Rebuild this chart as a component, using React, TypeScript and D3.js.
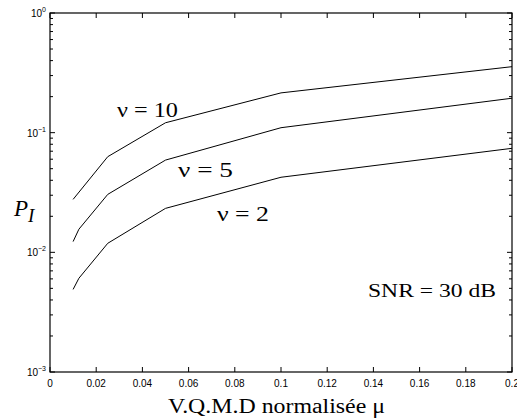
import { useEffect } from "react";
import * as d3 from "d3";

const mu = [0.01, 0.0125, 0.025, 0.05, 0.1, 0.2];
const nu10 = [0.0277, null, 0.063, 0.121, 0.215, 0.356];
const nu5 = [0.0123, 0.0156, 0.0305, 0.059, 0.11, 0.194];
const nu2 = [0.0049, 0.00607, 0.0119, 0.0233, 0.0424, 0.074];
const xTicks = [0, 0.02, 0.04, 0.06, 0.08, 0.1, 0.12, 0.14, 0.16, 0.18, 0.2];
const yExps = [0, -1, -2, -3];

const W = 517;
const H = 419;
const m = { left: 50, right: 5, top: 13, bottom: 47 };

export default function App() {
  useEffect(() => {
    document.body.style.margin = "0";
    document.body.style.overflow = "hidden";
  }, []);

  const x = d3.scaleLinear().domain([0, 0.2]).range([m.left, W - m.right]);
  const y = d3.scaleLog().domain([1e-3, 1]).range([H - m.bottom, m.top]);

  const line = d3
    .line<[number, number]>()
    .x((d) => x(d[0]))
    .y((d) => y(d[1]));

  const series = [nu10, nu5, nu2];

  // minor log ticks
  const minor: number[] = [];
  for (let e = -3; e < 0; e++) {
    for (let k = 2; k <= 9; k++) minor.push(k * Math.pow(10, e));
  }

  const x0 = x(0);
  const x1 = x(0.2);
  const y0 = y(1e-3);
  const y1 = y(1);
  const tickFont = "'Liberation Sans', Arial, sans-serif";
  const serif = "'Liberation Serif', 'Times New Roman', serif";

  return (
    <svg width={W} height={H} style={{ display: "block", background: "#fff" }}>
      {/* box */}
      <rect x={x0} y={y1} width={x1 - x0} height={y0 - y1} fill="none" stroke="#000" strokeWidth={1.2} />

      {/* x ticks */}
      {xTicks.map((t) => (
        <g key={"x" + t}>
          <line x1={x(t)} x2={x(t)} y1={y0} y2={y0 - 5} stroke="#000" />
          <line x1={x(t)} x2={x(t)} y1={y1} y2={y1 + 5} stroke="#000" />
          <text x={x(t)} y={y0 + 15} fontSize={10} fontFamily={tickFont} textAnchor="middle">
            {String(t)}
          </text>
        </g>
      ))}

      {/* y ticks */}
      {yExps.map((e) => (
        <g key={"y" + e}>
          <line x1={x0} x2={x0 + 5} y1={y(Math.pow(10, e))} y2={y(Math.pow(10, e))} stroke="#000" />
          <line x1={x1} x2={x1 - 5} y1={y(Math.pow(10, e))} y2={y(Math.pow(10, e))} stroke="#000" />
          <text x={x0 - 4} y={y(Math.pow(10, e)) + 4} fontSize={10} fontFamily={tickFont} textAnchor="end">
            10
            <tspan dy={-5} fontSize={7}>
              {e === 0 ? "0" : "\u2212" + Math.abs(e)}
            </tspan>
          </text>
        </g>
      ))}
      {minor.map((v) => (
        <g key={"m" + v}>
          <line x1={x0} x2={x0 + 3} y1={y(v)} y2={y(v)} stroke="#000" />
          <line x1={x1} x2={x1 - 3} y1={y(v)} y2={y(v)} stroke="#000" />
        </g>
      ))}

      {/* curves */}
      {series.map((s, i) => {
        const pts = mu
          .map((u, j) => [u, s[j]])
          .filter((p) => p[1] != null) as [number, number][];
        return <path key={"s" + i} d={line(pts) || ""} fill="none" stroke="#000" strokeWidth={1} />;
      })}

      {/* annotations */}
      <text x={117} y={117} fontSize={21} fontFamily={serif} textLength={61} lengthAdjust="spacingAndGlyphs">ν = 10</text>
      <text x={178} y={177} fontSize={21} fontFamily={serif} textLength={55} lengthAdjust="spacingAndGlyphs">ν = 5</text>
      <text x={217} y={221} fontSize={21} fontFamily={serif} textLength={52} lengthAdjust="spacingAndGlyphs">ν = 2</text>
      <text x={368} y={297} fontSize={19} fontFamily={serif} textLength={128} lengthAdjust="spacingAndGlyphs">SNR = 30 dB</text>

      <text x={14} y={216} fontSize={23} fontFamily={serif} fontStyle="italic">
        P
        <tspan dy={6} fontSize={19}>I</tspan>
      </text>

      <text x={168} y={413} fontSize={20} fontFamily={serif} textLength={217} lengthAdjust="spacingAndGlyphs">
        V.Q.M.D normalisée μ
      </text>
    </svg>
  );
}
